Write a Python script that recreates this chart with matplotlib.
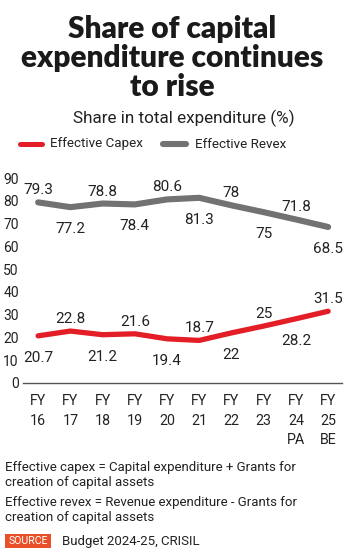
import matplotlib
matplotlib.use("Agg")
import matplotlib.pyplot as plt
from matplotlib.lines import Line2D
from matplotlib.patches import Rectangle

# ---- data -------------------------------------------------------------
years = ["FY\n16", "FY\n17", "FY\n18", "FY\n19", "FY\n20",
         "FY\n21", "FY\n22", "FY\n23", "FY\n24\nPA", "FY\n25\nBE"]
capex = [20.7, 22.8, 21.2, 21.6, 19.4, 18.7, 22, 25, 28.2, 31.5]
revex = [79.3, 77.2, 78.8, 78.4, 80.6, 81.3, 78, 75, 71.8, 68.5]
yticks = [0, 10, 20, 30, 40, 50, 60, 70, 80, 90]

title = "Share of capital\nexpenditure continues\nto rise"
subtitle = "Share in total expenditure (%)"
notes = ["Effective capex = Capital expenditure + Grants for\ncreation of capital assets",
         "Effective revex = Revenue expenditure - Grants for\ncreation of capital assets"]
source = "Budget 2024-25, CRISIL"

RED = "#e31e26"
GREY = "#727272"
INK = "#222222"
SRC = "#e8502a"
FONT = "Roboto"

W, H = 350, 555
fig = plt.figure(figsize=(W / 100, H / 100), dpi=100)
fig.patch.set_facecolor("white")


def fx(x):
    return x / W


def fy(y):
    return 1 - y / H


# ---- plot area ----------------------------------------------------------
ax = fig.add_axes([fx(23), fy(383), fx(342) - fx(23), fy(178) - fy(383)])
ax.set_xlim(-0.47, 9.43)
ax.set_ylim(0, 90)
x = list(range(len(years)))

ax.plot(x, revex, color=GREY, lw=4.4, solid_capstyle="round",
        solid_joinstyle="round", clip_on=False, zorder=3)
ax.plot(x, capex, color=RED, lw=3.8, solid_capstyle="round",
        solid_joinstyle="round", clip_on=False, zorder=3)

for spine in ("top", "right", "left"):
    ax.spines[spine].set_visible(False)
ax.spines["bottom"].set_color("#555555")
ax.spines["bottom"].set_linewidth(1.0)

ax.set_yticks(yticks)
ax.set_yticklabels([str(v) for v in yticks])
ax.set_xticks(x)
ax.set_xticklabels(years, linespacing=1.5)
ax.tick_params(axis="both", length=0, colors=INK)
ax.tick_params(axis="y", pad=3)
ax.tick_params(axis="x", pad=8)
for lbl in ax.get_yticklabels():
    lbl.set_fontfamily(FONT)
    lbl.set_fontsize(10)
for lbl in ax.get_xticklabels():
    lbl.set_fontfamily(FONT)
    lbl.set_fontsize(10.3)

# value labels alternate above and below the lines
for i, v in enumerate(revex):
    up = i % 2 == 0
    ax.annotate(f"{v:g}", (i, v), xytext=(0, 12 if up else -22),
                textcoords="offset pixels", ha="center", va="center",
                fontfamily=FONT, fontsize=11, color=INK,
                annotation_clip=False)
for i, v in enumerate(capex):
    up = i % 2 == 1
    ax.annotate(f"{v:g}", (i, v), xytext=(0, 12 if up else -22),
                textcoords="offset pixels", ha="center", va="center",
                fontfamily=FONT, fontsize=11, color=INK,
                annotation_clip=False)

# ---- header ---------------------------------------------------------------
fig.text(fx(172), fy(58), title, ha="center", va="center",
         fontfamily="Lato", fontweight="heavy", fontsize=21.5,
         color="#1a1a1a", linespacing=1.03)
fig.text(fx(184), fy(118), subtitle, ha="center", va="center",
         fontfamily=FONT, fontsize=12.3, color=INK)

# legend
fig.add_artist(Line2D([fx(20), fx(42)], [fy(144), fy(144)], color=RED,
                      lw=3.6, solid_capstyle="round"))
fig.text(fx(50), fy(144), "Effective Capex", ha="left", va="center",
         fontfamily=FONT, fontsize=9.6, color=INK)
fig.add_artist(Line2D([fx(163), fx(186)], [fy(144), fy(144)], color=GREY,
                      lw=4.4, solid_capstyle="round"))
fig.text(fx(195), fy(144), "Effective Revex", ha="left", va="center",
         fontfamily=FONT, fontsize=9.6, color=INK)

# ---- footer ---------------------------------------------------------------
fig.text(fx(5), fy(475), notes[0], ha="left", va="center",
         fontfamily=FONT, fontsize=9.5, color=INK, linespacing=1.12)
fig.text(fx(5), fy(510), notes[1], ha="left", va="center",
         fontfamily=FONT, fontsize=9.5, color=INK, linespacing=1.12)
fig.add_artist(Rectangle((fx(5), fy(548)), fx(51) - fx(5), fy(534) - fy(548),
                         facecolor=SRC, edgecolor="none",
                         transform=fig.transFigure))
fig.text(fx(28), fy(541), "SOURCE", ha="center", va="center",
         fontfamily=FONT, fontsize=7.6, color="white")
fig.text(fx(62), fy(541), source, ha="left", va="center",
         fontfamily=FONT, fontsize=9.5, color=INK)

fig.savefig("out.png", dpi=100, facecolor="white")
